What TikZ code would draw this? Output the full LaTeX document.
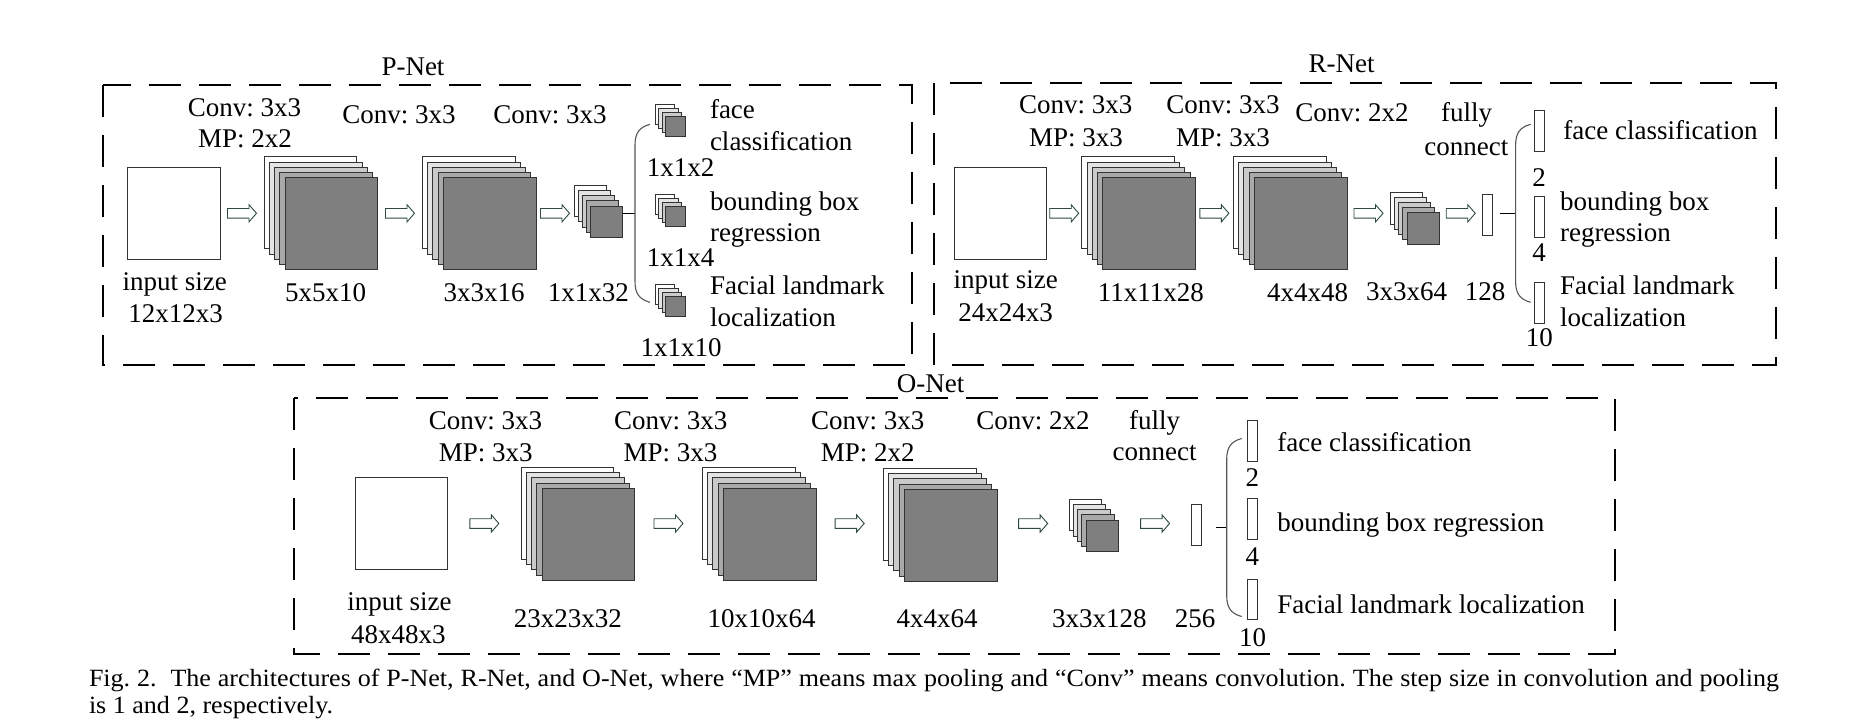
\documentclass[tikz,border=0pt]{standalone}
\usepackage{fontspec}
\setmainfont{Liberation Serif}
\usetikzlibrary{calc}
\definecolor{lay1}{HTML}{E4E4E4}
\definecolor{lay2}{HTML}{CACACA}
\definecolor{lay3}{HTML}{A9A9A9}
\definecolor{lay4}{HTML}{7F7F7F}
\definecolor{arrowc}{HTML}{2E4A3C}
\definecolor{bracec}{HTML}{555555}
\newcommand\layerstack[8]{% name, back x, back y, w, h, dx, dy, colours
  \foreach \lc [count=\i from 0] in {#8}{%
    \node[layerbox,fill=\lc,minimum width=#4pt,minimum height=#5pt] (#1-\i) at ({#2+\i*#6},{#3+\i*#7}) {};
  }%
}
\tikzset{
  blockarrow/.pic={\draw[arrowc,fill=white,line width=0.9pt] (-14.5,-4.8) -- (7,-4.8) -- (7,-8.6) -- (14.5,0) -- (7,8.6) -- (7,4.8) -- (-14.5,4.8) -- cycle;},
  bracepic/.pic={\draw[bracestyle] (15,-89) .. controls (4,-86) and (0,-80) .. (0,-68) -- (0,68) .. controls (0,80) and (4,86) .. (15,89);},
}
\begin{document}
\frenchspacing
\begin{tikzpicture}[x=1pt,y=-1pt,
  layerbox/.style={draw=black!80,line width=0.9pt,inner sep=0pt,outer sep=0pt,anchor=north west},
  inbox/.style={draw=black!80,line width=0.9pt,fill=white,inner sep=0pt,outer sep=0pt,anchor=north west,minimum width=92.7pt,minimum height=92pt},
  fcbar/.style={draw=black!80,line width=0.9pt,fill=white,inner sep=0pt,outer sep=0pt,anchor=north west,minimum width=10pt,minimum height=41pt},
  lbl/.style={inner sep=0pt,outer sep=0pt,anchor=base,font=\fontsize{27}{31}\selectfont},
  lbll/.style={lbl,anchor=base west},
  caption/.style={inner sep=0pt,outer sep=0pt,anchor=base west,font=\fontsize{24.8}{27}\selectfont},
  netbox/.style={draw=black,line width=2.2pt,dash pattern=on 32pt off 18pt},
  wireline/.style={draw=black,line width=1.1pt},
  bracestyle/.style={draw=bracec,line width=1.1pt}]
\fill[white] (0,0) rectangle (1854,726);
\useasboundingbox (0,0) rectangle (1854,726);

% ---------- dashed frames ----------
\draw[netbox] (103,85) rectangle (912,365);
\draw[netbox] (934,83) rectangle (1776,365);
\draw[netbox] (294,398) rectangle (1615,654);

% ================= P-Net =================
\node[inbox] (pin) at (127.3,167.3) {};
\layerstack{p1}{264}{156.7}{92.7}{92}{5.25}{5.25}{white,lay1,lay2,lay3,lay4}
\layerstack{p2}{422.3}{156.7}{92.7}{92}{5.25}{5.25}{white,lay1,lay2,lay3,lay4}
\layerstack{ps}{574}{185}{32}{31.5}{4}{5.25}{white,lay1,lay2,lay3,lay4}
\layerstack{pt1}{655}{104}{19.5}{20}{3.6}{4.2}{white,lay1,lay2,lay4}
\layerstack{pt2}{655}{194.3}{19.5}{20}{3.6}{4.2}{white,lay1,lay2,lay4}
\layerstack{pt3}{655}{284.3}{19.5}{20}{3.6}{4.2}{white,lay1,lay2,lay4}
\pic (pa1) at ($(pin.east)!.5!(p1-0.west |- pin)$) {blockarrow};
\pic (pa2) at ($(p1-4.east |- pin)!.5!(p2-0.west |- pin)$) {blockarrow};
\pic (pa3) at ($(p2-4.east |- pin)!.5!(ps-0.west |- pin)$) {blockarrow};
\coordinate (pj) at ($(ps-4.east |- pin)+(13,0)$);
\draw[wireline] (ps-4.east |- pin) -- (pj);
\pic (pbr) at (pj) {bracepic};

\node[lbl] (pname) at (413,75) {P-Net};
\node[lbl] (pc1a) at (244.5,116) {Conv: 3x3};
\node[lbl] (pc1b) at (245,147.3) {MP: 2x2};
\node[lbl] (pc2) at (399,123.3) {Conv: 3x3};
\node[lbl] (pc3) at (550,123.3) {Conv: 3x3};
\node[lbl] (pina) at (174.7,290) {input size};
\node[lbl] (pinb) at (175.5,322.7) {12x12x3};
\node[lbl] (pd1) at (325.5,301) {5x5x10};
\node[lbl] (pd2) at (484,301) {3x3x16};
\node[lbl] (pd3) at (588.3,301) {1x1x32};
\node[lbll] (po1a) at (710,118.3) {face};
\node[lbll] (po1b) at (710,150) {classification};
\node[lbl] (po1n) at (680.5,176.7) {1x1x2};
\node[lbll] (po2a) at (710,210) {bounding box};
\node[lbll] (po2b) at (710,241) {regression};
\node[lbl] (po2n) at (680.5,266.7) {1x1x4};
\node[lbll] (po3a) at (710,294) {Facial landmark};
\node[lbll] (po3b) at (710,326) {localization};
\node[lbl] (po3n) at (681,356) {1x1x10};

% ================= R-Net =================
\node[inbox] (rin) at (954,167.3) {};
\layerstack{r1}{1081.7}{156.7}{92.7}{92}{5.25}{5.25}{white,lay1,lay2,lay3,lay4}
\layerstack{r2}{1233.3}{156.7}{92.7}{92}{5.25}{5.25}{white,lay1,lay2,lay3,lay4}
\layerstack{rs}{1390}{192.7}{32}{31.5}{4.3}{5}{white,lay1,lay2,lay3,lay4}
\node[fcbar,minimum height=41.7pt] (rfc) at (1482.3,194) {};
\pic (ra1) at ($(rin.east)!.5!(r1-0.west |- rin)$) {blockarrow};
\pic (ra2) at ($(r1-4.east |- rin)!.5!(r2-0.west |- rin)$) {blockarrow};
\pic (ra3) at ($(r2-4.east |- rin)!.5!(rs-0.west |- rin)$) {blockarrow};
\pic (ra4) at ($(rs-4.east |- rin)!.5!(rfc.west |- rin)$) {blockarrow};
\coordinate (rw) at ($(rfc.east |- rin)+(8,0)$);
\coordinate (rj) at ($(rfc.east |- rin)+(23.3,0)$);
\draw[wireline] (rw) -- (rj);
\pic (rbr) at (rj) {bracepic};
\node[fcbar] (rb1) at (1534.3,110) {};
\node[fcbar] (rb2) at (1534.3,196.7) {};
\node[fcbar] (rb3) at (1534.3,282.3) {};

\node[lbl] (rname) at (1341.7,72.7) {R-Net};
\node[lbl] (rc1a) at (1075.8,113.3) {Conv: 3x3};
\node[lbl] (rc1b) at (1076,146) {MP: 3x3};
\node[lbl] (rc2a) at (1223,113.3) {Conv: 3x3};
\node[lbl] (rc2b) at (1223,146) {MP: 3x3};
\node[lbl] (rc3) at (1352,121.7) {Conv: 2x2};
\node[lbl] (rfca) at (1466.5,121.7) {fully};
\node[lbl] (rfcb) at (1466.3,155) {connect};
\node[lbl] (rina) at (1005.8,288.3) {input size};
\node[lbl] (rinb) at (1005.5,321) {24x24x3};
\node[lbl] (rd1) at (1150.8,301) {11x11x28};
\node[lbl] (rd2) at (1307.7,301) {4x4x48};
\node[lbl] (rd3) at (1406.5,300) {3x3x64};
\node[lbl] (rd4) at (1485,300) {128};
\node[lbll] (ro1) at (1563.3,139.3) {face classification};
\node[lbl] (ro1n) at (1539,186.7) {2};
\node[lbll] (ro2a) at (1560,210) {bounding box};
\node[lbll] (ro2b) at (1560,241) {regression};
\node[lbl] (ro2n) at (1539,261.7) {4};
\node[lbll] (ro3a) at (1560,294) {Facial landmark};
\node[lbll] (ro3b) at (1560,326) {localization};
\node[lbl] (ro3n) at (1539.3,346.7) {10};

% ================= O-Net =================
\node[inbox,minimum height=91.6pt] (oin) at (355,477.7) {};
\layerstack{o1}{521}{467.3}{92.7}{92}{5.25}{5.25}{white,lay1,lay2,lay3,lay4}
\layerstack{o2}{702.3}{467.3}{92.7}{92}{5.25}{5.25}{white,lay1,lay2,lay3,lay4}
\layerstack{o3}{883.3}{468.3}{92.7}{92}{5.25}{5.25}{white,lay1,lay2,lay3,lay4}
\layerstack{os}{1069.3}{499}{32.3}{31.7}{4.2}{5.25}{white,lay1,lay2,lay3,lay4}
\node[fcbar,minimum height=41.4pt] (ofc) at (1191.7,504.3) {};
\pic (oa1) at ($(oin.east)!.5!(o1-0.west |- oin)$) {blockarrow};
\pic (oa2) at ($(o1-4.east |- oin)!.5!(o2-0.west |- oin)$) {blockarrow};
\pic (oa3) at ($(o2-4.east |- oin)!.5!(o3-0.west |- oin)$) {blockarrow};
\pic (oa4) at ($(o3-4.east |- oin)!.5!(os-0.west |- oin)$) {blockarrow};
\pic (oa5) at ($(os-4.east |- oin)!.5!(ofc.west |- oin)$) {blockarrow};
\coordinate (ow) at ($(ofc.east)+(14.3,2.5)$);
\coordinate (oj) at ($(ofc.east)+(25,2.5)$);
\draw[wireline] (ow) -- (oj);
\pic (obr) at (oj) {bracepic};
\node[fcbar,minimum height=40.5pt] (ob1) at (1247.3,420.7) {};
\node[fcbar,minimum height=40.5pt] (ob2) at (1247.3,498.7) {};
\node[fcbar,minimum height=40.5pt] (ob3) at (1247.3,579.3) {};

\node[lbl] (oname) at (930.7,392.7) {O-Net};
\node[lbl] (oc1a) at (485.5,429.3) {Conv: 3x3};
\node[lbl] (oc1b) at (485.8,461) {MP: 3x3};
\node[lbl] (oc2a) at (670.8,429.3) {Conv: 3x3};
\node[lbl] (oc2b) at (670.5,461) {MP: 3x3};
\node[lbl] (oc3a) at (867.8,429.3) {Conv: 3x3};
\node[lbl] (oc3b) at (867.8,461) {MP: 2x2};
\node[lbl] (oc4) at (1033,429.3) {Conv: 2x2};
\node[lbl] (ofca) at (1154.7,429.3) {fully};
\node[lbl] (ofcb) at (1154.7,460.7) {connect};
\node[lbl] (oina) at (399.5,610.7) {input size};
\node[lbl] (oinb) at (398.3,643.3) {48x48x3};
\node[lbl] (od1) at (567.8,627.5) {23x23x32};
\node[lbl] (od2) at (761.5,627.5) {10x10x64};
\node[lbl] (od3) at (937,627) {4x4x64};
\node[lbl] (od4) at (1099.3,627) {3x3x128};
\node[lbl] (od5) at (1195,627) {256};
\node[lbll] (oo1) at (1277.3,451.7) {face classification};
\node[lbl] (oo1n) at (1252.3,486.7) {2};
\node[lbll] (oo2) at (1277.3,531.7) {bounding box regression};
\node[lbl] (oo2n) at (1252.3,565) {4};
\node[lbll] (oo3) at (1277.3,613.3) {Facial landmark localization};
\node[lbl] (oo3n) at (1252.5,646.7) {10};

% ================= caption =================
\node[caption] (cap1) at (89,686)
  {\scalebox{1.05}[1]{\makebox[1609.5pt][s]{Fig.~2.\ \ The architectures of P-Net, R-Net, and O-Net, where “MP” means max pooling and “Conv” means convolution. The step size in convolution and pooling}}};
\node[caption] (cap2) at (89,713)
  {\scalebox{1.05}[1]{is 1 and 2, respectively.}};
\end{tikzpicture}
\end{document}
